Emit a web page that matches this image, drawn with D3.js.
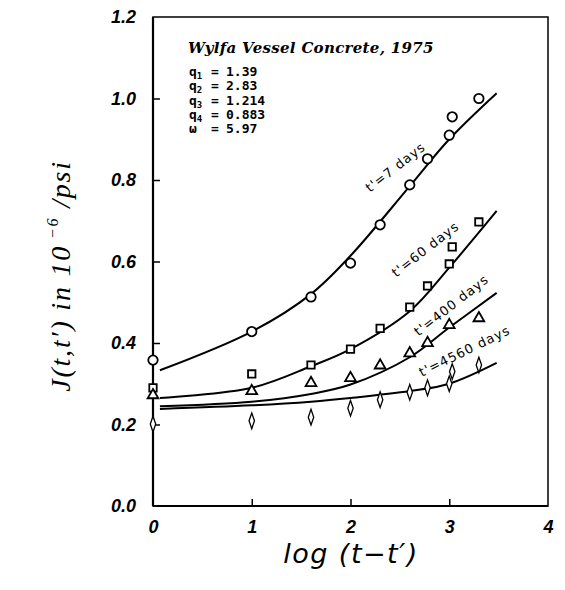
<!DOCTYPE html>
<html><head><meta charset="utf-8">
<script src="https://cdn.jsdelivr.net/npm/d3@7"></script>
<style>body{margin:0;background:#fff}svg{display:block}</style>
</head><body><svg id="c" width="565" height="590"></svg>
<script>
// ---- data ----
const logT = [0, 1.0, 1.6, 2.0, 2.3, 2.6, 2.78, 3.0, 3.03, 3.3];
const J7    = [0.358, 0.428, 0.513, 0.596, 0.690, 0.788, 0.852, 0.910, 0.955, 1.000];
const J60   = [0.290, 0.324, 0.346, 0.385, 0.436, 0.488, 0.540, 0.594, 0.636, 0.697];
const J400  = [0.272, 0.282, 0.302, 0.314, 0.345, 0.375, 0.400, 0.444, null, 0.461];
const J4560 = [0.201, 0.209, 0.218, 0.240, 0.261, 0.279, 0.290, 0.300, 0.330, 0.346];
const fitX    = [0.07, 1.0, 1.6, 2.0, 2.6, 3.0, 3.48];
const fit7    = [0.333, 0.428, 0.520, 0.614, 0.785, 0.900, 1.013];
const fit60   = [0.265, 0.290, 0.343, 0.385, 0.478, 0.585, 0.724];
const fit400  = [0.245, 0.256, 0.275, 0.298, 0.365, 0.438, 0.523];
const fit4560 = [0.238, 0.247, 0.256, 0.265, 0.282, 0.300, 0.351];
const xTicks = [0, 1, 2, 3, 4];
const yTicks = [0.0, 0.2, 0.4, 0.6, 0.8, 1.0, 1.2];
const curveLabels = ["t'=7 days", "t'=60 days", "t'=400 days", "t'=4560 days"];
const paramNames = ["1", "2", "3", "4", "ω"];
const paramValues = ["1.39", "2.83", "1.214", "0.883", "5.97"];

// ---- chart ----
const svg = d3.select("#c");
const x = d3.scaleLinear().domain([0, 4]).range([153, 548]);
const y = d3.scaleLinear().domain([0, 1.2]).range([506, 17]);
const tickFont = "'Liberation Sans', Arial, sans-serif";

// frame
svg.append("rect").attr("x", x(0)).attr("y", y(1.2))
  .attr("width", x(4) - x(0)).attr("height", y(0) - y(1.2))
  .attr("fill", "none").attr("stroke", "#000").attr("stroke-width", 1.5);
svg.append("line").attr("x1", x(0)).attr("x2", x(0)).attr("y1", y(1.2)).attr("y2", y(0))
  .attr("stroke", "#000").attr("stroke-width", 2.2);
svg.append("line").attr("x1", x(0)).attr("x2", x(4)).attr("y1", y(0)).attr("y2", y(0))
  .attr("stroke", "#000").attr("stroke-width", 2);

// axes (inward ticks)
const yAxis = d3.axisLeft(y).tickValues(yTicks).tickSize(-7).tickPadding(17).tickFormat(d3.format(".1f"));
const gy = svg.append("g").attr("transform", `translate(${x(0)},0)`).call(yAxis);
const xAxis = d3.axisBottom(x).tickValues(xTicks).tickSize(-7).tickPadding(14).tickFormat(d3.format("d"));
const gx = svg.append("g").attr("transform", `translate(0,${y(0)})`).call(xAxis);
[gx, gy].forEach(g => {
  g.select(".domain").remove();
  g.selectAll(".tick line").attr("stroke", "#000").attr("stroke-width", 1.5);
  g.selectAll(".tick text").attr("fill", "#000").style("font-family", tickFont)
    .style("font-weight", "bold").style("font-style", "italic").style("font-size", "18px");
});
gy.selectAll(".tick").filter(d => d === 0 || d === 1.2).select("line").remove();
gx.selectAll(".tick").filter(d => d === 0 || d === 4).select("line").remove();

// fitted curves
const line = d3.line().x(d => x(d[0])).y(d => y(d[1])).curve(d3.curveCatmullRom.alpha(0.5));
[fit7, fit60, fit400, fit4560].forEach(f => {
  svg.append("path").datum(fitX.map((v, i) => [v, f[i]])).attr("d", line)
    .attr("fill", "none").attr("stroke", "#000").attr("stroke-width", 2);
});

// markers
const sym = [d3.symbolCircle, d3.symbolSquare, d3.symbolTriangle, d3.symbolDiamond];
const sizes = [70, 55, 50, 45];
[J7, J60, J400, J4560].forEach((s, k) => {
  const pts = logT.map((v, i) => [v, s[i]]).filter(d => d[1] != null);
  svg.append("g").selectAll("path").data(pts).join("path")
    .attr("d", d3.symbol(sym[k], sizes[k]))
    .attr("transform", d => `translate(${x(d[0])},${y(d[1])})` + (k === 3 ? " scale(0.75,1.25)" : ""))
    .attr("fill", "#fff").attr("stroke", "#000").attr("stroke-width", k === 3 ? 1.6 : 1.8);
});

// curve labels
const lab = [[396, 168, -38], [426, 250, -38], [452, 306, -38], [465, 352, -26]];
curveLabels.forEach((t, i) => {
  svg.append("text").attr("transform", `translate(${lab[i][0]},${lab[i][1]}) rotate(${lab[i][2]})`)
    .attr("text-anchor", "middle").attr("dominant-baseline", "middle")
    .style("font-family", "'DejaVu Sans', sans-serif").style("font-size", "13px")
    .style("letter-spacing", "1px").text(t);
});

// title
svg.append("text").attr("x", 188).attr("y", 53)
  .style("font-family", "'DejaVu Serif', serif").style("font-weight", "bold").style("font-style", "italic")
  .style("font-size", "15px").style("letter-spacing", "0.3px").text("Wylfa Vessel Concrete, 1975");

// parameters
const pf = "'DejaVu Sans Mono', monospace";
paramNames.forEach((n, i) => {
  const yy = 76 + i * 14.3;
  const t = svg.append("text").attr("x", 189).attr("y", yy)
    .style("font-family", pf).style("font-weight", "bold").style("font-size", "13px");
  if (n === "ω") t.text("ω");
  else { t.text("q"); t.append("tspan").attr("dy", 3).style("font-size", "9px").text(n); }
  svg.append("text").attr("x", 211).attr("y", yy).style("font-family", pf)
    .style("font-weight", "bold").style("font-size", "13px").text("=");
  svg.append("text").attr("x", 226).attr("y", yy).style("font-family", pf)
    .style("font-weight", "bold").style("font-size", "13px").text(paramValues[i]);
});

// axis titles
svg.append("text").attr("x", 351).attr("y", 563).attr("text-anchor", "middle")
  .style("font-family", "'DejaVu Sans', sans-serif").style("font-style", "italic")
  .style("font-size", "27px").style("letter-spacing", "1.5px").text("log  (t−t′)");

const yl = svg.append("text").attr("transform", "translate(70,276) rotate(-90)")
  .attr("text-anchor", "middle")
  .style("font-family", "'Liberation Serif', serif").style("font-style", "italic")
  .style("font-size", "28px").style("letter-spacing", "1.8px");
yl.append("tspan").text("J(t,t′)  in  10");
yl.append("tspan").attr("dy", -12).style("font-size", "16px").text(" −6");
yl.append("tspan").attr("dy", 12).text("  /psi");
</script></body></html>
